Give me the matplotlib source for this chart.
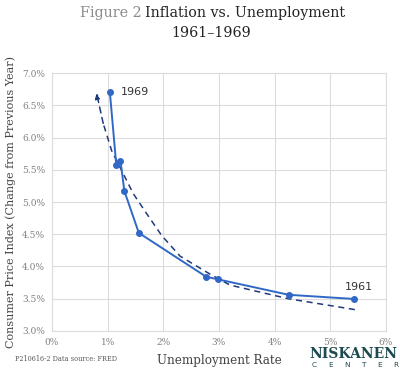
import matplotlib.pyplot as plt
import numpy as np

# points 1961 -> 1969
years = ['1961', '1962', '1963', '1964', '1965', '1966', '1967', '1968', '1969']
unemployment = [5.43, 4.25, 2.98, 2.77, 1.56, 1.30, 1.23, 1.155, 1.04]
cpi_change = [3.495, 3.56, 3.80, 3.84, 4.52, 5.17, 5.64, 5.57, 6.70]

# dashed curve (right to left, arrow at the end)
curve_x = [5.44, 4.24, 3.2, 2.84, 2.30, 1.97, 1.70, 1.46, 1.25, 1.07, 0.92, 0.80]
curve_y = [3.33, 3.50, 3.71, 3.88, 4.16, 4.48, 4.82, 5.13, 5.49, 5.80, 6.22, 6.69]

x_ticks = [0, 1, 2, 3, 4, 5, 6]
y_ticks = [3.0, 3.5, 4.0, 4.5, 5.0, 5.5, 6.0, 6.5, 7.0]

blue = '#3168c6'
navy = '#1f3b7a'
grey = '#808080'
teal = '#1d4a4f'
serif = 'DejaVu Serif'

fig = plt.figure(figsize=(4, 3.79), dpi=100)
ax = fig.add_axes([0.13, 0.127, 0.835, 0.68])

ax.plot(curve_x[:-1], curve_y[:-1], color=navy, lw=1.1, ls=(0, (4, 3)))
ax.annotate('', xy=(curve_x[-1], curve_y[-1]), xytext=(curve_x[-2], curve_y[-2]),
            arrowprops=dict(arrowstyle='-|>', color=navy, lw=1.1, ls=(0, (4, 3)),
                            mutation_scale=8, shrinkA=0, shrinkB=0))

ax.plot(unemployment, cpi_change, color=blue, lw=1.4, marker='o', ms=4)

ax.text(unemployment[-1] + 0.2, cpi_change[-1], years[-1], fontsize=8,
        color='#333333', va='center', ha='left')
ax.text(unemployment[0] + 0.08, cpi_change[0] + 0.19, years[0], fontsize=8,
        color='#333333', va='center', ha='center')

ax.set_xlim(0, 6)
ax.set_ylim(3.0, 7.0)
ax.set_xticks(x_ticks)
ax.set_xticklabels([f'{t}%' for t in x_ticks])
ax.set_yticks(y_ticks)
ax.set_yticklabels([f'{t:.1f}%' for t in y_ticks])
ax.tick_params(length=0, labelsize=6.5, labelcolor=grey, pad=5)
for lbl in ax.get_xticklabels() + ax.get_yticklabels():
    lbl.set_family(serif)
ax.grid(color='#dcdcdc', lw=0.8)
ax.set_axisbelow(True)
for s in ax.spines.values():
    s.set_color('#dcdcdc')
    s.set_linewidth(0.8)

ax.set_xlabel('Unemployment Rate', family=serif, fontsize=8.6, color='#444444', labelpad=5)
ax.set_ylabel('Consumer Price Index (Change from Previous Year)', family=serif,
              fontsize=8.0, color='#444444', labelpad=4)

# title, two colours on the first line
fig.text(0.353, 0.965, 'Figure 2', family=serif, fontsize=10.3, color='#8a8a8a',
         ha='right', va='center')
fig.text(0.362, 0.965, 'Inflation vs. Unemployment', family=serif, fontsize=10.3,
         color='#222222', ha='left', va='center')
fig.text(0.528, 0.914, '1961\u20131969', family=serif, fontsize=10.3, color='#222222',
         ha='center', va='center')

fig.text(0.037, 0.053, 'P210616-2 Data source: FRED', family=serif, fontsize=4.7,
         color='#555555', ha='left', va='center')
fig.text(0.993, 0.066, 'NISKANEN', family=serif, fontsize=10, weight='bold',
         color=teal, ha='right', va='center')
for i, ch in enumerate('CENTER'):
    fig.text(0.785 + i * 0.041, 0.038, ch, family='DejaVu Sans', fontsize=5.3,
             color=teal, ha='center', va='center')

fig.savefig('out.png', dpi=100)
